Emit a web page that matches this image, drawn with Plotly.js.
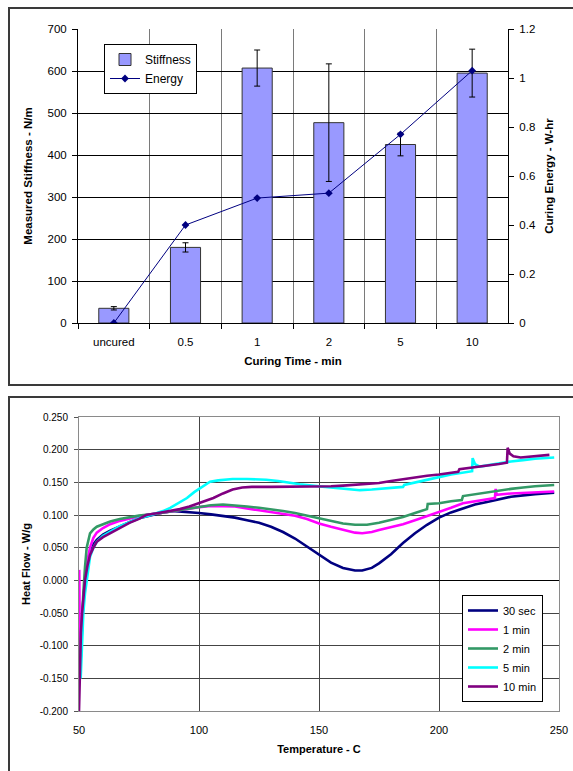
<!DOCTYPE html>
<html>
<head>
<meta charset="utf-8">
<script src="https://cdn.plot.ly/plotly-3.0.1.min.js"></script>
<style>
html,body{margin:0;padding:0;background:#fff;}
#chart{width:573px;height:771px;}
</style>
</head>
<body>
<div id="chart"></div>
<script>
// ---- Top chart data ----
const categories = ['uncured', '0.5', '1', '2', '5', '10'];
const stiffness = [35, 180, 607, 477, 425, 595];
const stiffnessErr = [4, 11, 43, 140, 27, 57];
const energy = [0, 0.40, 0.51, 0.53, 0.77, 1.03];

// ---- Bottom chart data (DSC heat flow) ----
const seriesNames = ['30 sec', '1 min', '2 min', '5 min', '10 min'];
const T30 = [50.6,51.2,51.8,52.5,53.5,54.6,56,57.4,60,63,67,71,75,80,85,90,95,100,105,110,115,120,125,130,135,140,145,150,155,160,165,168,172,175,180,185,190,195,200,205,210,215,220,225,230,235,240,248];
const F30 = [-0.13,-0.07,-0.03,0.0,0.025,0.041,0.055,0.062,0.07,0.076,0.083,0.089,0.095,0.1,0.104,0.106,0.105,0.103,0.101,0.099,0.096,0.092,0.088,0.082,0.074,0.064,0.052,0.039,0.027,0.019,0.015,0.015,0.019,0.026,0.040,0.057,0.072,0.085,0.096,0.104,0.110,0.116,0.120,0.124,0.128,0.130,0.132,0.134];
const T1 = [50.1,50.15,50.4,51,51.8,52.5,53.5,54.6,56,57.4,60,63,67,71,75,80,85,90,95,100,105,110,115,120,125,130,135,140,145,150,155,160,165,168,172,175,180,185,190,195,200,205,210,215,220,223.3,223.6,224,230,240,248];
const F1 = [0.016,-0.06,-0.14,-0.08,-0.03,0.0,0.03,0.05,0.065,0.073,0.08,0.086,0.091,0.095,0.098,0.101,0.104,0.107,0.110,0.112,0.114,0.114,0.113,0.110,0.107,0.104,0.102,0.099,0.094,0.087,0.082,0.077,0.073,0.072,0.074,0.077,0.081,0.086,0.092,0.098,0.105,0.111,0.118,0.121,0.124,0.126,0.140,0.131,0.133,0.135,0.136];
const T2 = [50.5,51.2,51.8,52.5,53.2,54.6,56,57.4,60,63,67,71,75,80,85,90,95,100,105,110,115,120,125,130,135,140,145,150,155,160,165,170,175,180,185,190,195,195.3,200,205,209.5,210,215,220,225,230,235,240,248];
const F2 = [-0.12,-0.06,-0.02,0.02,0.05,0.072,0.078,0.082,0.086,0.09,0.094,0.097,0.099,0.101,0.104,0.107,0.11,0.113,0.115,0.116,0.115,0.113,0.111,0.109,0.106,0.103,0.099,0.094,0.09,0.087,0.085,0.085,0.088,0.092,0.097,0.103,0.109,0.117,0.118,0.121,0.123,0.129,0.132,0.135,0.138,0.140,0.142,0.144,0.146];
const T5 = [50.7,51.2,51.8,52.5,53.5,54.6,56,57.4,60,63,67,71,75,80,85,88,91,95,98,101.8,104.6,108,114,120,128,133,138,142,147,152,157,162,167,172,176,180,185,185.5,190,195,200,205,210,213.8,214,215,217,220,225,230,235,240,248];
const F5 = [-0.15,-0.1,-0.05,-0.02,0.01,0.036,0.05,0.059,0.068,0.075,0.083,0.089,0.095,0.1,0.106,0.111,0.117,0.126,0.135,0.144,0.151,0.153,0.155,0.155,0.154,0.152,0.149,0.147,0.145,0.143,0.141,0.139,0.138,0.139,0.14,0.141,0.143,0.146,0.15,0.154,0.158,0.162,0.165,0.167,0.187,0.178,0.174,0.176,0.179,0.182,0.184,0.186,0.188];
const T10 = [50,50.3,50.8,51.3,51.8,52.5,53.5,54.6,56,57.4,60,63,67,71,75,78,83,88,92,96,100,103,106,110,114,118,122,130,138,145,150,155,160,165,170,175,180,185,190,195,200,205,208,208.5,215,220,225,228.3,228.6,229.5,231,234,240,246];
const F10 = [-0.2,-0.13,-0.08,-0.05,-0.027,0.0,0.022,0.039,0.05,0.059,0.066,0.072,0.081,0.088,0.094,0.1,0.103,0.106,0.109,0.113,0.118,0.122,0.126,0.133,0.139,0.142,0.143,0.143,0.143,0.143,0.143,0.144,0.145,0.146,0.148,0.149,0.152,0.155,0.158,0.16,0.162,0.164,0.166,0.17,0.173,0.175,0.178,0.18,0.203,0.194,0.19,0.188,0.19,0.192];
const heatY = [-0.2,-0.15,-0.1,-0.05,0,0.05,0.1,0.15,0.2,0.25];
const heatYText = ['-0.200','-0.150','-0.100','-0.050','0.000','0.050','0.100','0.150','0.200','0.250'];

const seriesT = [T30, T1, T2, T5, T10];
const seriesF = [F30, F1, F2, F5, F10];
const seriesColors = ['#000080', '#FF00FF', '#339966', '#00FFFF', '#800080'];

const FONT = 'Liberation Sans, Arial, sans-serif';
const W = 573, H = 771;
const px = v => v / W;
const py = v => 1 - v / H;

const traces = [
  {
    type: 'bar', name: 'Stiffness', x: categories, y: stiffness,
    xaxis: 'x', yaxis: 'y', width: 0.42,
    marker: {color: '#9999FF', line: {color: '#333333', width: 1}},
    error_y: {type: 'data', array: stiffnessErr, visible: true, color: '#000', thickness: 1, width: 3},
    legend: 'legend'
  },
  {
    type: 'scatter', mode: 'lines+markers', name: 'Energy', x: categories, y: energy,
    xaxis: 'x', yaxis: 'y2',
    line: {color: '#000080', width: 1},
    marker: {symbol: 'diamond', size: 6, color: '#000080'},
    legend: 'legend'
  }
];
for (let i = 0; i < seriesNames.length; i++) {
  traces.push({
    type: 'scatter', mode: 'lines', name: seriesNames[i],
    x: seriesT[i], y: seriesF[i], xaxis: 'x2', yaxis: 'y3',
    line: {color: seriesColors[i], width: 2.6},
    legend: 'legend2'
  });
}

const layout = {
  width: W, height: H,
  margin: {l: 0, r: 0, t: 0, b: 0},
  paper_bgcolor: '#fff', plot_bgcolor: '#fff',
  font: {family: FONT, color: '#000', size: 11},
  bargap: 0.58,
  xaxis: {
    domain: [px(78), px(508)], anchor: 'y', type: 'category',
    tickson: 'boundaries', ticks: 'outside', ticklen: 5, tickcolor: '#000',
    ticklabelstandoff: 8,
    showgrid: true, gridcolor: '#7a7a7a', gridwidth: 1,
    showline: true, linecolor: '#000', linewidth: 1,
    tickfont: {size: 11.5, family: FONT},
    title: {text: '<b>Curing Time - min</b>', font: {size: 11.5, family: FONT}, standoff: 10},
    automargin: false
  },
  yaxis: {
    domain: [py(323), py(29)], anchor: 'x', range: [0, 700], dtick: 100,
    ticks: 'outside', ticklen: 5, tickcolor: '#000',
    ticklabelstandoff: 3,
    showgrid: true, gridcolor: '#000', gridwidth: 1, zeroline: false,
    showline: true, linecolor: '#000', linewidth: 1,
    tickfont: {size: 11.5, family: FONT},
    title: {text: '<b>Measured Stiffness - N/m</b>', font: {size: 11.5, family: FONT}, standoff: 12},
    automargin: false
  },
  yaxis2: {
    overlaying: 'y', side: 'right', anchor: 'x', range: [0, 1.2], dtick: 0.2,
    ticks: 'outside', ticklen: 5, tickcolor: '#000',
    ticklabelstandoff: 3,
    showgrid: false, zeroline: false,
    showline: true, linecolor: '#000', linewidth: 1,
    tickfont: {size: 11.5, family: FONT},
    title: {text: '<b>Curing Energy - W-hr</b>', font: {size: 11.5, family: FONT}, standoff: 10},
    automargin: false
  },
  xaxis2: {
    domain: [px(79), px(559)], anchor: 'y3', range: [50, 250], dtick: 50,
    ticks: '', ticklabelstandoff: 9,
    showgrid: true, gridcolor: '#444', gridwidth: 1, zeroline: false,
    showline: true, mirror: true, linecolor: '#8a8a8a', linewidth: 1,
    tickfont: {size: 11, family: FONT},
    title: {text: '<b>Temperature - C</b>', font: {size: 11, family: FONT}, standoff: 10},
    automargin: false
  },
  yaxis3: {
    domain: [py(711), py(417)], anchor: 'x2', range: [-0.2, 0.25],
    tickvals: heatY, ticktext: heatYText,
    ticks: 'outside', ticklen: 4, tickcolor: '#555',
    ticklabelstandoff: 4,
    showgrid: true, gridcolor: '#444', gridwidth: 1,
    zeroline: true, zerolinecolor: '#000', zerolinewidth: 1,
    showline: true, mirror: true, linecolor: '#8a8a8a', linewidth: 1,
    tickfont: {size: 10, family: FONT},
    title: {text: '<b>Heat Flow - W/g</b>', font: {size: 11, family: FONT}, standoff: 6},
    automargin: false
  },
  legend: {
    x: px(104), y: py(44), xanchor: 'left', yanchor: 'top',
    bgcolor: '#fff', bordercolor: '#000', borderwidth: 1,
    font: {size: 12, family: FONT}, tracegroupgap: 0
  },
  legend2: {
    x: px(462), y: py(595), xanchor: 'left', yanchor: 'top',
    bgcolor: '#fff', bordercolor: '#000', borderwidth: 1,
    font: {size: 11, family: FONT}, tracegroupgap: 0
  },
  shapes: [
    {type: 'rect', xref: 'paper', yref: 'paper', x0: px(9), x1: 1.05, y0: py(385), y1: py(8),
     line: {color: '#3a3a3a', width: 2}, layer: 'below'},
    {type: 'rect', xref: 'paper', yref: 'paper', x0: px(9), x1: 1.05, y0: -0.05, y1: py(397),
     line: {color: '#3a3a3a', width: 2}, layer: 'below'}
  ]
};

Plotly.newPlot('chart', traces, layout, {staticPlot: true, displayModeBar: false});
</script>
</body>
</html>
